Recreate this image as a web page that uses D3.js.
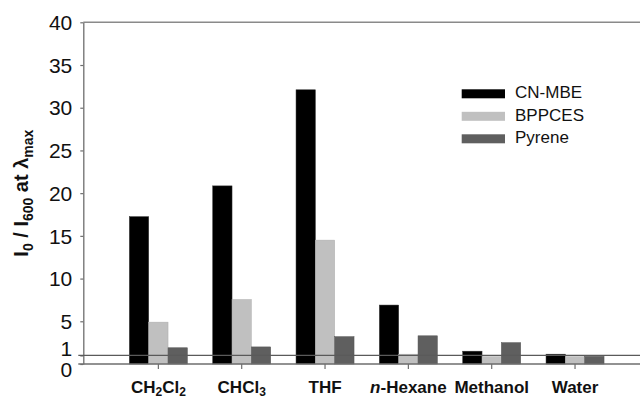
<!DOCTYPE html>
<html>
<head>
<meta charset="utf-8">
<script src="https://cdn.jsdelivr.net/npm/d3@7"></script>
<style>
  html, body { margin: 0; padding: 0; background: #fff; }
  svg { display: block; font-family: "Liberation Sans", Arial, sans-serif; }
</style>
</head>
<body>
<svg id="chart" width="640" height="399"></svg>
<script>
// ---- data ----
const categories = ["CH2Cl2", "CHCl3", "THF", "n-Hexane", "Methanol", "Water"];
const series = ["CN-MBE", "BPPCES", "Pyrene"];
const cnMbe  = [17.25, 20.85, 32.1, 6.9, 1.5, 1.15];
const bppces = [4.9, 7.55, 14.5, 1.15, 0.85, 0.85];
const pyrene = [1.9, 2.0, 3.2, 3.3, 2.5, 0.9];
const yTicks = [0, 1, 5, 10, 15, 20, 25, 30, 35, 40];
const seriesColors = ["#000000", "#c0c0c0", "#5f5f5f"];
const seriesValues = [cnMbe, bppces, pyrene];

// label parts: [text, style] where style: "n" normal, "s" subscript, "i" italic
const catLabels = {
  "CH2Cl2": [["CH", "n"], ["2", "s"], ["Cl", "n"], ["2", "s"]],
  "CHCl3": [["CHCl", "n"], ["3", "s"]],
  "THF": [["THF", "n"]],
  "n-Hexane": [["n", "i"], ["-Hexane", "n"]],
  "Methanol": [["Methanol", "n"]],
  "Water": [["Water", "n"]]
};

const svg = d3.select("#chart");
const axisColor = "#6e6e6e";

const x0Left = 83.3, rightEdge = 640;
const y = d3.scaleLinear().domain([0, 40]).range([364, 22.3]);
const x = d3.scaleBand().domain(categories).range([116.7, 616.7]).padding(0);
const xs = d3.scaleBand().domain(series).range([0, x.bandwidth()]).paddingInner(0).paddingOuter(0.655);

// top frame line
svg.append("line")
  .attr("x1", x0Left).attr("x2", rightEdge)
  .attr("y1", y(40)).attr("y2", y(40))
  .attr("stroke", "#8a8a8a").attr("stroke-width", 1.5);

// bars
const gBars = svg.append("g");
series.forEach((s, si) => {
  gBars.selectAll(null)
    .data(categories.map((c, ci) => ({ c, v: seriesValues[si][ci] })))
    .enter().append("rect")
    .attr("x", d => x(d.c) + xs(s))
    .attr("width", xs.bandwidth())
    .attr("y", d => y(d.v))
    .attr("height", d => y(0) - y(d.v))
    .attr("fill", seriesColors[si])
    .attr("stroke", si === 0 ? "#333" : d3.color(seriesColors[si]).darker(0.3))
    .attr("stroke-width", 0.5);
});

// y axis
const yAxis = d3.axisLeft(y).tickValues(yTicks).tickSize(3).tickPadding(8).tickSizeOuter(0);
const gy = svg.append("g").attr("transform", `translate(${x0Left},0)`).call(yAxis);
gy.select(".domain").attr("stroke", axisColor).attr("stroke-width", 1.3);
gy.selectAll(".tick line").attr("stroke", axisColor).attr("stroke-width", 1.2);
gy.selectAll(".tick text")
  .attr("font-size", 21).attr("fill", "#111")
  .attr("font-family", "Liberation Sans, Arial, sans-serif")
  .attr("dy", d => d === 1 ? "0em" : d === 0 ? "0.6em" : "0.34em");

// x axis
const xAxis = d3.axisBottom(x).tickSize(5).tickSizeOuter(0);
const gx = svg.append("g").attr("transform", `translate(0,${y(0)})`).call(xAxis);
gx.select(".domain").remove();
gx.append("line").attr("x1", x0Left - 5).attr("x2", rightEdge).attr("y1", 0).attr("y2", 0)
  .attr("stroke", axisColor).attr("stroke-width", 1.3);
gx.selectAll(".tick line").attr("stroke", axisColor).attr("stroke-width", 1.2);
gx.selectAll(".tick text").each(function(d) {
  const t = d3.select(this);
  t.text(null).attr("y", 29).attr("dy", 0)
    .attr("font-size", 17).attr("font-weight", "bold").attr("fill", "#111");
  let shift = 0;
  catLabels[d].forEach(([txt, st]) => {
    const ts = t.append("tspan").text(txt);
    const target = st === "s" ? 3 : 0;
    ts.attr("dy", target - shift);
    shift = target;
    if (st === "s") ts.attr("font-size", 12);
    if (st === "i") ts.attr("font-style", "italic");
  });
});

// 1-line reference
svg.append("line")
  .attr("x1", x0Left - 5).attr("x2", rightEdge)
  .attr("y1", y(1)).attr("y2", y(1))
  .attr("stroke", "#5a5a5a").attr("stroke-width", 1.2);

// y title
const title = svg.append("text")
  .attr("transform", `translate(28,${(y(0) + y(40)) / 2}) rotate(-90)`)
  .attr("text-anchor", "middle")
  .attr("font-size", 20).attr("font-weight", "bold").attr("fill", "#111");
title.append("tspan").text("I");
title.append("tspan").text("0").attr("font-size", 14).attr("dy", 5);
title.append("tspan").text(" / I").attr("dy", -5);
title.append("tspan").text("600").attr("font-size", 14).attr("dy", 5);
title.append("tspan").text(" at λ").attr("dy", -5);
title.append("tspan").text("max").attr("font-size", 14).attr("dy", 5);

// legend
const legend = svg.append("g");
const legY = [89.3, 111.8, 134.3];
series.forEach((s, i) => {
  legend.append("rect").attr("x", 461.7).attr("y", legY[i]).attr("width", 43.3).attr("height", 9)
    .attr("fill", seriesColors[i]);
  legend.append("text").attr("x", 515).attr("y", legY[i] + 9)
    .attr("font-size", 17).attr("fill", "#111").text(s);
});
</script>
</body>
</html>
